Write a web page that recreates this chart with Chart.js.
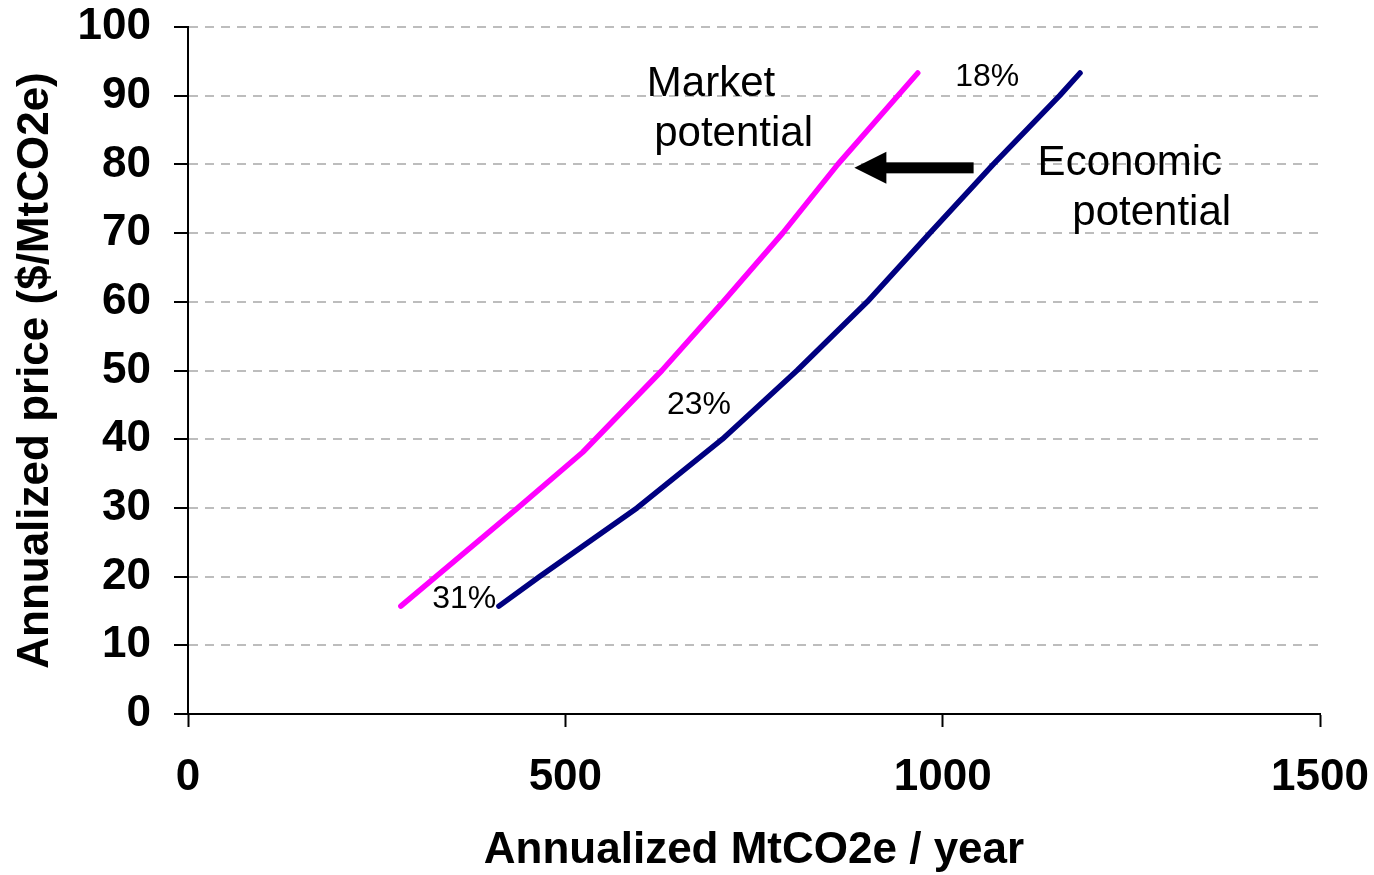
<!DOCTYPE html>
<html>
<head>
<meta charset="utf-8">
<script src="https://cdn.jsdelivr.net/npm/chart.js@4"></script>
<style>
  html, body { margin: 0; padding: 0; background: #fff; }
  #wrap { width: 1374px; height: 875px; }
</style>
</head>
<body>
<div id="wrap"><canvas id="myChart" width="1374" height="875"></canvas></div>
<script>
// MtCO2e / year (x) and $/MtCO2e (y)
const market_x = [282, 437, 523, 628, 709, 788, 861, 967];
const market_y = [15.7, 30, 38.1, 50, 60, 70, 80, 93.3];
const economic_x = [412, 466, 595, 708, 807, 900, 983, 1067, 1155, 1182];
const economic_y = [15.7, 20, 30, 40, 50, 60, 70, 80, 90, 93.3];

// annotations, placed in data units
const labels_text = ['Market', 'potential', 'Economic', 'potential', '18%', '23%', '31%'];
const labels_x = [693, 723, 1248, 1277, 1059, 677, 366];
const labels_y = [91.7, 84.3, 80.2, 72.8, 92.7, 45, 16.7];
const labels_size = [42, 42, 42, 42, 32, 32, 32];
const arrow_from = [1041, 79.5];
const arrow_to = [883, 79.5];

const toPoints = (xs, ys) => xs.map((x, i) => ({ x: x, y: ys[i] }));

const font = 'Liberation Sans, Arial, sans-serif';

// text + arrow
const notes = {
  id: 'notes',
  afterDatasetsDraw(chart) {
    const c = chart.ctx;
    const sx = chart.scales.x, sy = chart.scales.y;
    c.save();
    c.fillStyle = '#000';
    c.textAlign = 'center';
    c.textBaseline = 'middle';
    labels_text.forEach((t, i) => {
      c.font = labels_size[i] + 'px ' + font;
      c.fillText(t, sx.getPixelForValue(labels_x[i]), sy.getPixelForValue(labels_y[i]));
    });
    const x1 = sx.getPixelForValue(arrow_from[0]);
    const x2 = sx.getPixelForValue(arrow_to[0]);
    const y = sy.getPixelForValue(arrow_to[1]);
    c.fillRect(x2 + 30, y - 5.5, x1 - x2 - 30, 11);
    c.beginPath();
    c.moveTo(x2, y);
    c.lineTo(x2 + 32, y - 16);
    c.lineTo(x2 + 32, y + 16);
    c.closePath();
    c.fill();
    c.restore();
  }
};

const ctx = document.getElementById('myChart').getContext('2d');
const myChart = new Chart(ctx, {
  type: 'scatter',
  data: {
    datasets: [{
      label: 'Market potential',
      data: toPoints(market_x, market_y),
      borderColor: '#FF00FF',
      borderWidth: 5.5,
      showLine: true,
      pointRadius: 0,
      borderCapStyle: 'round',
      borderJoinStyle: 'round'
    }, {
      label: 'Economic potential',
      data: toPoints(economic_x, economic_y),
      borderColor: '#000080',
      borderWidth: 5.5,
      showLine: true,
      pointRadius: 0,
      borderCapStyle: 'round',
      borderJoinStyle: 'round'
    }]
  },
  options: {
    responsive: false,
    animation: false,
    layout: { padding: { top: 27, right: 54, left: 0, bottom: 0 } },
    plugins: {
      legend: { display: false },
      tooltip: { enabled: false }
    },
    scales: {
      x: {
        type: 'linear',
        min: 0,
        max: 1500,
        ticks: { stepSize: 500, color: '#000', padding: 24, font: { family: font, size: 44, weight: 'bold' },
                 callback: v => String(v) },
        grid: { drawOnChartArea: false, drawTicks: true, tickLength: 13, tickColor: '#000', tickWidth: 2 },
        border: { display: true, color: '#000', width: 2 },
        title: { display: true, text: 'Annualized MtCO2e / year', color: '#000', padding: { top: 0, bottom: 2 },
                 font: { family: font, size: 44, weight: 'bold', lineHeight: 1 } },
        afterFit(scale) {
          scale.height = 161;
          scale.paddingLeft = 0;
          scale.paddingRight = 0;
        }
      },
      y: {
        min: 0,
        max: 100,
        ticks: { stepSize: 10, color: '#000', padding: 23, font: { family: font, size: 44, weight: 'bold' } },
        grid: { color: '#BDBDBD', lineWidth: 2, drawTicks: true, tickLength: 14, tickColor: '#000', tickWidth: 2 },
        border: { display: true, color: '#000', width: 2, dash: [9, 7] },
        title: { display: true, text: 'Annualized price ($/MtCO2e)', color: '#000', padding: { top: 9, bottom: 0 },
                 font: { family: font, size: 44, weight: 'bold' } },
        afterFit(scale) {
          scale.width = 188;
          scale.paddingTop = 0;
          scale.paddingBottom = 0;
        }
      }
    }
  },
  plugins: [notes]
});
</script>
</body>
</html>
